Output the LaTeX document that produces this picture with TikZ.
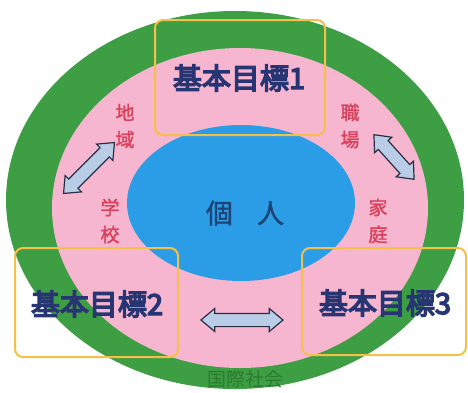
\documentclass[tikz,border=0pt]{standalone}
\usepackage{fontspec}
\newfontfamily\cjk{Noto Sans CJK JP}
\newfontfamily\cjkb[FakeBold=5]{Noto Sans CJK JP}
\newfontfamily\cjkm[FakeBold=1.5]{Noto Sans CJK JP}
\usetikzlibrary{shapes.arrows}
\definecolor{ringgreen}{HTML}{3D9E43}
\definecolor{ringpink}{HTML}{F7B6CF}
\definecolor{coreblue}{HTML}{2B9CE6}
\definecolor{boxorange}{HTML}{F6BF4A}
\definecolor{navytext}{HTML}{283573}
\definecolor{redtext}{HTML}{D8405C}
\definecolor{coretext}{HTML}{1D4474}
\definecolor{worldtext}{HTML}{2A7A30}
\definecolor{arrowfill}{HTML}{B9CDE6}
\definecolor{arrowline}{HTML}{2B2F45}
\tikzset{
  goalbox/.style={draw=boxorange, line width=2pt, rounded corners=8pt},
  goaltext/.style={font=\cjkb\fontsize{29}{32}\selectfont, text=navytext, inner sep=0pt},
  placetext/.style={font=\cjkm\fontsize{19}{27}\selectfont, text=redtext, align=center, inner sep=0pt},
  blockarrow/.style={double arrow, draw=arrowline, line width=1.2pt, fill=arrowfill,
    inner xsep=0pt, inner ysep=6pt, double arrow head extend=5pt, double arrow tip angle=80}
}
\begin{document}
\begin{tikzpicture}[x=1pt,y=-1pt]
\useasboundingbox (0,0) rectangle (468,392);
% rings
\fill[ringgreen] (235,200) ellipse [x radius=229, y radius=189];
\fill[ringpink] (240,208) ellipse [x radius=188, y radius=160];
\fill[coreblue] (241,203) ellipse [x radius=114, y radius=78];
% goal boxes
\draw[goalbox] (155,20) rectangle (325,135);
\draw[goalbox] (15,248) rectangle (178,357);
\draw[goalbox] (302,248) rectangle (466,355);
\node[goaltext] (g1) at (239,78) {基本目標1};
\node[goaltext] (g2) at (97,304) {基本目標2};
\node[goaltext] (g3) at (385,303) {基本目標3};
% places
\node[placetext] (chiiki) at (125,126) {地\\域};
\node[placetext] (shokuba) at (350,126) {職\\場};
\node[placetext] (gakkou) at (110,221) {学\\校};
\node[placetext] (katei) at (378,221) {家\\庭};
% centre
\node[font=\cjkm\fontsize{27}{30}\selectfont, text=coretext, inner sep=0pt] (kojin) at (245,213) {個\hspace{0.9em}人};
% world
\node[font=\cjk\fontsize{19}{20}\selectfont, text=worldtext, inner sep=0pt] (world) at (245,379) {国際社会};
% arrows
\node[blockarrow, minimum height=72pt, rotate=45] (a1) at (89,168) {};
\node[blockarrow, minimum height=60pt, rotate=-48] (a2) at (394,157) {};
\node[blockarrow, minimum height=82pt] (a3) at (242,320) {};
\end{tikzpicture}
\end{document}
